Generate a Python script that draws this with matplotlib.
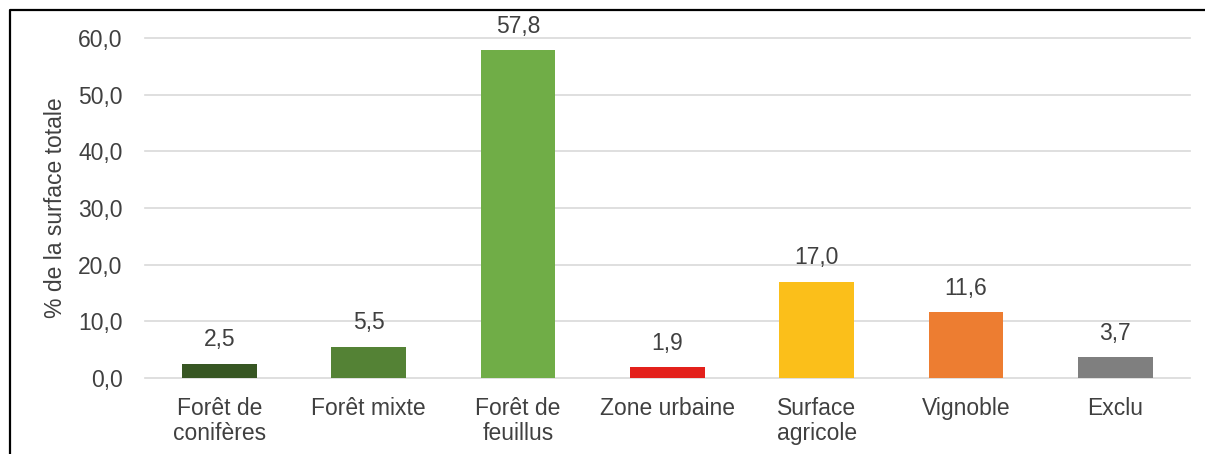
import matplotlib.pyplot as plt
from matplotlib.lines import Line2D

# share of total area per land-cover class
categories = ['Forêt de\nconifères', 'Forêt mixte', 'Forêt de\nfeuillus', 'Zone urbaine',
              'Surface\nagricole', 'Vignoble', 'Exclu']
values = [2.5, 5.5, 57.8, 1.9, 17.0, 11.6, 3.7]
colors = ['#375623', '#548235', '#70AD47', '#E3201B', '#FBBF1A', '#ED7D31', '#7F7F7F']
yticks = [0, 10, 20, 30, 40, 50, 60]

plt.rcParams['font.family'] = ['Liberation Sans', 'DejaVu Sans']
txt = '#404040'
fs = 16.5

fig = plt.figure(figsize=(12.05, 4.54), dpi=100)
ax = fig.add_axes([0.120, 0.1674, 0.8675, 0.7489])

x = range(len(categories))
ax.bar(x, values, width=0.5, color=colors, zorder=3)
for xi, v in zip(x, values):
    ax.annotate(f'{v:.1f}'.replace('.', ','), (xi, v), xytext=(0, 9),
                textcoords='offset points', ha='center', va='bottom',
                fontsize=fs, color=txt)

ax.set_xlim(-0.5, len(categories) - 0.5)
ax.set_ylim(0, 60)
ax.set_yticks(yticks)
ax.set_yticklabels([f'{t:.1f}'.replace('.', ',') for t in yticks], fontsize=fs, color=txt)
ax.set_xticks(list(x))
ax.set_xticklabels(categories, fontsize=fs, color=txt, linespacing=1.1, va='top')
ax.tick_params(axis='y', length=0, pad=16)
ax.tick_params(axis='x', length=0, pad=14)
ax.grid(axis='y', color='#D9D9D9', linewidth=1.2, zorder=0)
for ln in ax.get_ygridlines():
    ln.set_clip_on(False)
for s in ax.spines.values():
    s.set_visible(False)
ax.set_ylabel('% de la surface totale', fontsize=fs, color=txt, labelpad=8)

# outer frame (left and top edges)
fig.add_artist(Line2D([0.008, 0.008, 1.0], [0.0, 0.977, 0.977], color='black',
                      linewidth=1.6, transform=fig.transFigure))

fig.savefig('out.png', dpi=100)
